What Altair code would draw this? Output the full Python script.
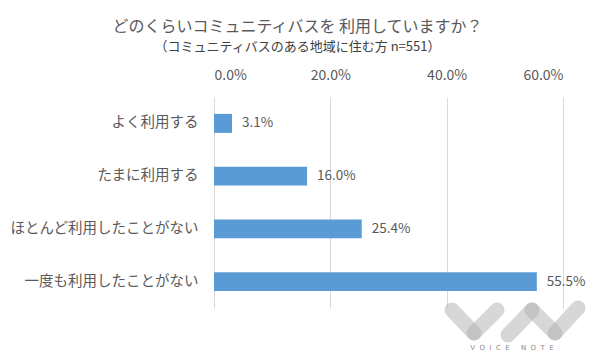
import altair as alt
import pandas as pd

categories = ["よく利用する", "たまに利用する", "ほとんど利用したことがない", "一度も利用したことがない"]
values = [3.1, 16.0, 25.4, 55.5]
x_ticks = [0, 20, 40, 60]

df = pd.DataFrame({"cat": categories, "val": values})
df["label"] = [f"{v:.1f}%" for v in values]

FONT = "Noto Sans CJK JP"
GREY = "#595959"

x = alt.X("val:Q",
          scale=alt.Scale(domain=[0, 60], nice=False),
          axis=alt.Axis(orient="top", values=x_ticks, labelExpr="format(datum.value, '.1f') + '%'",
                        title=None, domain=False, ticks=False, grid=True, gridColor="#D9D9D9",
                        labelFontSize=14, labelColor=GREY, labelFont=FONT, labelPadding=15))
y = alt.Y("cat:N", sort=categories,
          scale=alt.Scale(paddingInner=0.64, paddingOuter=0.32),
          axis=alt.Axis(title=None, domain=False, ticks=False, labelFontSize=14.5,
                        labelColor=GREY, labelFont=FONT, labelPadding=16, labelLimit=300))

bars = alt.Chart(df).mark_bar(color="#5B9BD5").encode(x=x, y=y)
labels = alt.Chart(df).mark_text(align="left", dx=10, fontSize=13.5, color=GREY, font=FONT).encode(
    x="val:Q", y=alt.Y("cat:N", sort=categories), text="label:N")

# watermark logo (decoration)
logo_segments = pd.DataFrame({
    "x1": [238, 260, 294, 318, 341],
    "y1": [213, 236, 238, 213, 236],
    "x2": [260, 283, 318, 341, 364],
    "y2": [236, 213, 213, 236, 211],
})
logo = alt.Chart(logo_segments).mark_rule(strokeWidth=15, strokeCap="round", color="#B0B0B0", opacity=0.5).encode(
    x=alt.X("x1:Q", scale=None), y=alt.Y("y1:Q", scale=None),
    x2="x2:Q", y2="y2:Q")
NB = "\u00a0"
wm_label = (NB * 2).join("VOICE") + NB * 5 + (NB * 2).join("NOTE")
wm_text = alt.Chart(pd.DataFrame({"t": [wm_label]})).mark_text(
    fontSize=7, color="#8C8C8C", font="DejaVu Sans").encode(
    text="t:N", x=alt.value(298), y=alt.value(251))

chart = alt.layer(bars, labels, logo, wm_text).properties(
    width=349, height=211,
    title=alt.Title(
        text="どのくらいコミュニティバスを 利用していますか？",
        subtitle="（コミュニティバスのある地域に住む方 n=551）",
        anchor="middle", frame="group", dx=-91, offset=14,
        font=FONT, fontSize=16, fontWeight="normal", color=GREY,
        subtitleFont=FONT, subtitleFontSize=13, subtitleColor="#404040", subtitlePadding=6),
    autosize=alt.AutoSizeParams(type="none"),
    padding={"left": 206, "top": 89, "right": 29, "bottom": 44},
).configure_view(stroke=None)

chart.save("out.html", embed_options={"renderer": "svg", "actions": False})
